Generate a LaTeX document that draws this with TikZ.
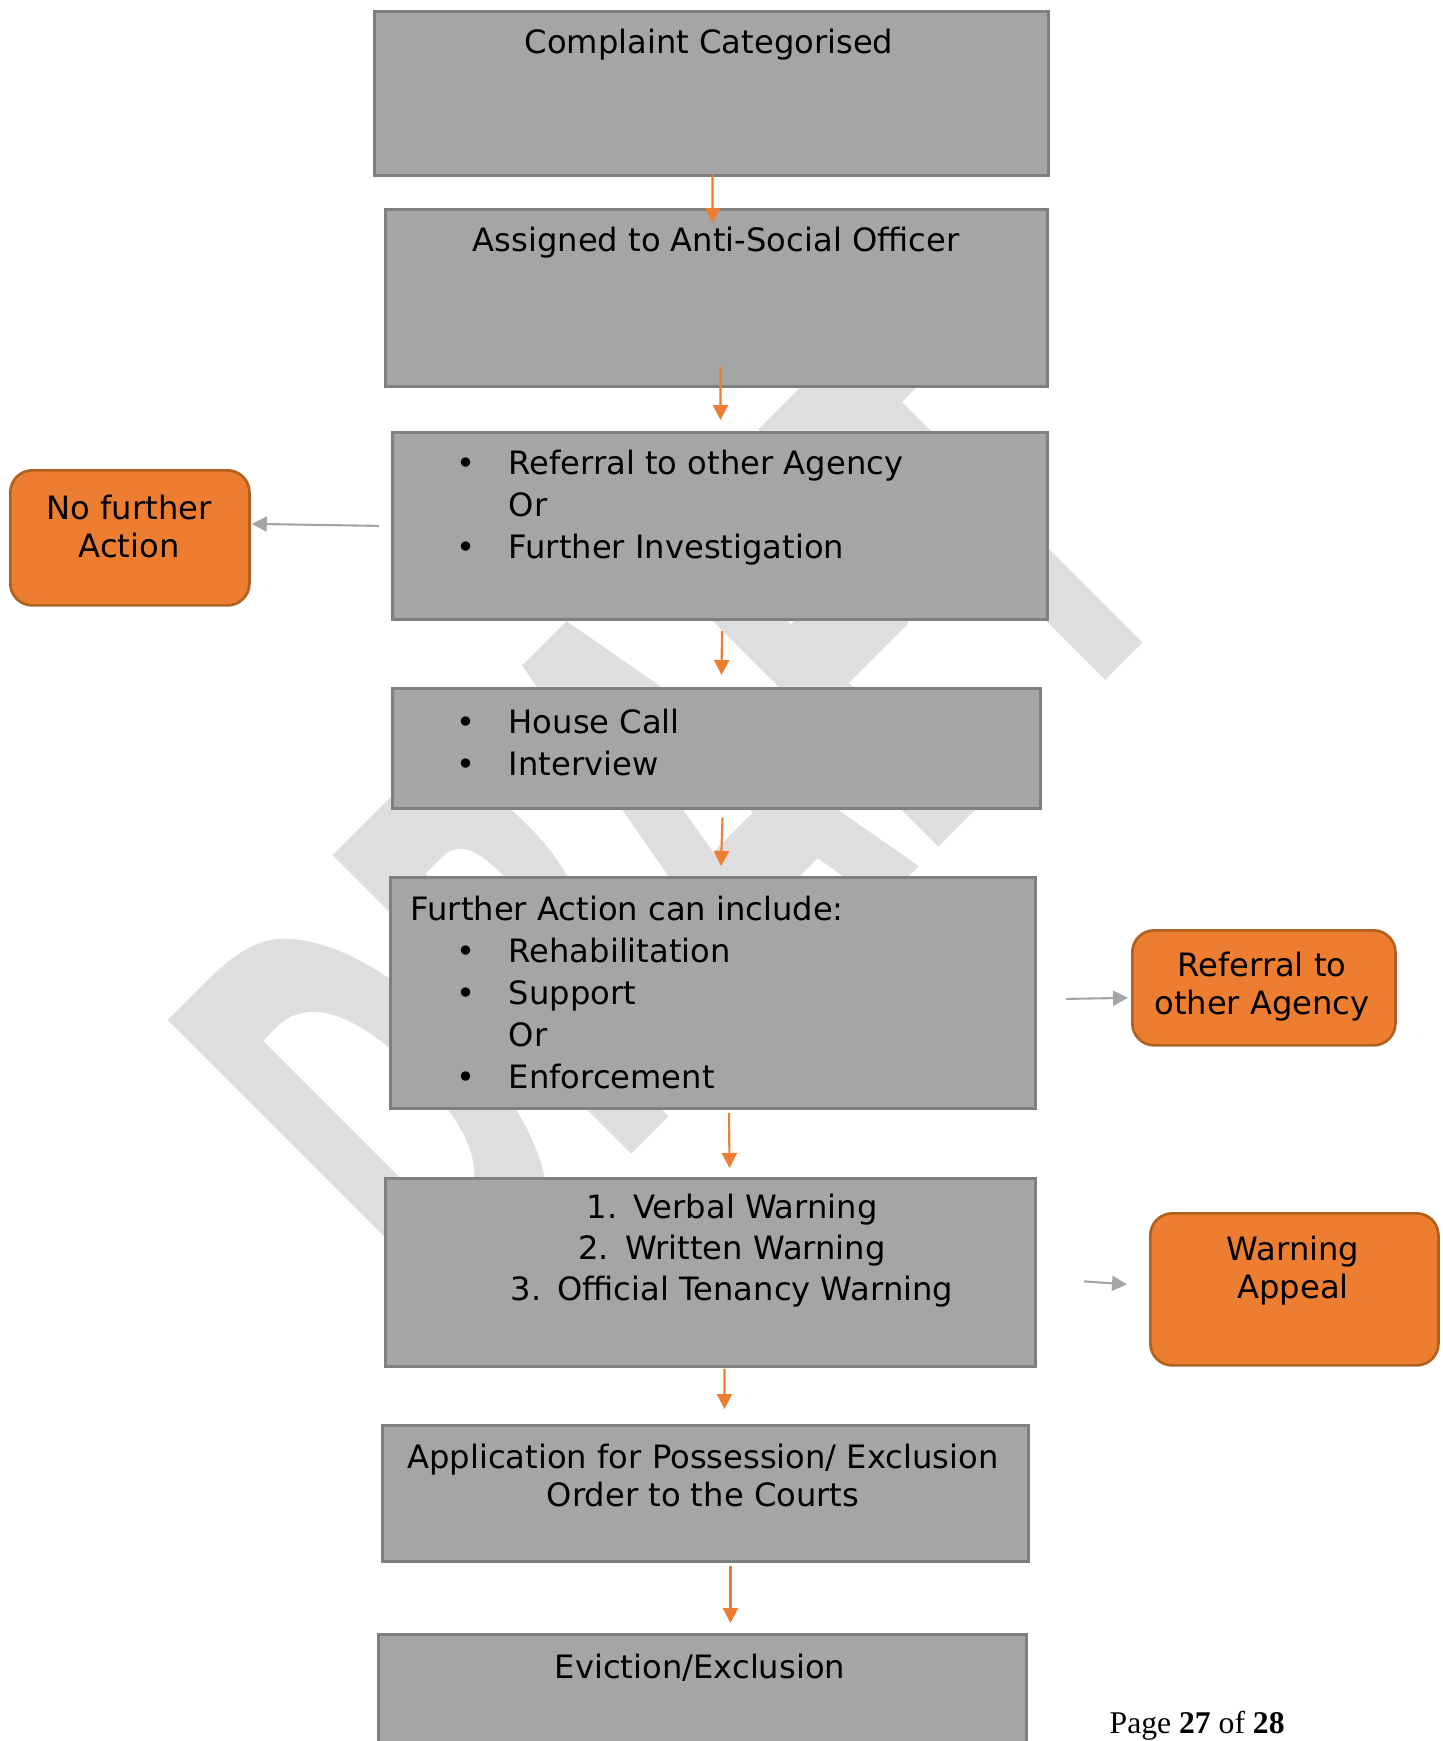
\documentclass[tikz,border=0pt]{standalone}
\usepackage{fontspec}
\setmainfont{DejaVu Sans}
\newfontfamily\pagefont{Liberation Serif}
\usepackage{xcolor}
\usetikzlibrary{arrows.meta,calc}
\definecolor{boxfill}{HTML}{A5A5A5}
\definecolor{boxline}{HTML}{7F7F7F}
\definecolor{orgfill}{HTML}{ED7D31}
\definecolor{orgline}{HTML}{B0601F}
\definecolor{arrgray}{HTML}{A5A5A5}
\definecolor{wmark}{HTML}{DEDEDE}
\newcommand{\bul}{\makebox[0.52cm][l]{\textbullet}}

\begin{document}
\begin{tikzpicture}[x=0.01cm, y=-0.01cm,
  gbox/.style={draw=boxline, fill=boxfill, line width=0.75pt,
    anchor=north west, inner sep=0pt},
  obox/.style={draw=orgline, fill=orgfill, line width=0.75pt,
    rounded corners=0.22cm, anchor=north west, inner sep=0pt},
  txt/.style={font=\fontsize{9.15}{10.8}\selectfont, inner sep=0pt,
    anchor=north, align=center},
  lst/.style={font=\fontsize{9.15}{12}\selectfont, inner sep=0pt,
    anchor=north west, align=left},
  arr/.style={-{Triangle[length=0.15cm, width=0.15cm]}, line width=0.6pt, draw=orgfill},
  garr/.style={-{Triangle[length=0.15cm, width=0.15cm]}, line width=0.6pt, draw=arrgray},
]
  \useasboundingbox (0,0) rectangle (1443,1741);
  \clip (0,0) rectangle (1443,1741);

  \node[font=\fontsize{80}{80}\selectfont\bfseries, text=wmark, rotate=45,
    yscale=2.06, inner sep=0pt] (wm) at (671,816) {DRAFT};

  \node[gbox, minimum width=6.74cm, minimum height=1.64cm] (b1) at (373,10) {};
  \node[gbox, minimum width=6.62cm, minimum height=1.77cm] (b2) at (384,208) {};
  \node[gbox, minimum width=6.55cm, minimum height=1.87cm] (b3) at (391,431) {};
  \node[gbox, minimum width=6.48cm, minimum height=1.20cm] (b4) at (391,687) {};
  \node[gbox, minimum width=6.45cm, minimum height=2.31cm] (b5) at (389,876) {};
  \node[gbox, minimum width=6.50cm, minimum height=1.88cm] (b6) at (384,1177) {};
  \node[gbox, minimum width=6.46cm, minimum height=1.36cm] (b7) at (381,1424) {};
  \node[gbox, minimum width=6.48cm, minimum height=1.40cm] (b8) at (377,1633) {};

  \node[obox, minimum width=2.39cm, minimum height=1.35cm] (nfa) at (9,469) {};
  \node[obox, minimum width=2.63cm, minimum height=1.15cm] (roa) at (1131,929) {};
  \node[obox, minimum width=2.88cm, minimum height=1.52cm] (wap) at (1149,1212) {};

  \node[txt] (t1) at (709,28) {Complaint Categorised};
  \node[txt] (t2) at (716,226) {Assigned to Anti-Social Officer};
  \node[lst] (t3) at (456,449)
    {\bul Referral to other Agency\\\hspace*{0.52cm}Or\\\bul Further Investigation};
  \node[lst] (t4) at (456,708) {\bul House Call\\\bul Interview};
  \node[lst] (t5) at (410,895)
    {Further Action can include:\\
     \hspace*{0.46cm}\bul Rehabilitation\\
     \hspace*{0.46cm}\bul Support\\
     \hspace*{0.98cm}Or\\
     \hspace*{0.46cm}\bul Enforcement};
  \node[txt, font=\fontsize{9.15}{11.7}\selectfont] (t6) at (732,1193)
    {1.\enspace Verbal Warning\\2.\enspace Written Warning\\3.\enspace Official Tenancy Warning};
  \node[txt] (t7) at (703,1443) {Application for Possession/ Exclusion\\Order to the Courts};
  \node[txt] (t8) at (700,1653) {Eviction/Exclusion};

  \node[txt] (t9) at (129,494) {No further\\Action};
  \node[txt] (t10) at (1262,951) {Referral to\\other Agency};
  \node[txt] (t11) at (1293,1235) {Warning\\Appeal};

  \draw[arr] ($(b1.south)+(1,-2)$) -- ($(b2.north)+(-4,15)$);
  \draw[arr] ($(b2.south)+(4,-21)$) -- ($(b3.north)+(0.5,-11)$);
  \draw[arr] ($(b3.south)+(2,10)$) -- ($(b4.north)+(5,-12)$);
  \draw[arr] ($(b4.south)+(6,8)$) -- ($(b5.north)+(8,-10)$);
  \draw[arr] ($(b5.south)+(16,3)$) -- ($(b6.north)+(19,-9)$);
  \draw[arr] ($(b6.south)+(14,1)$) -- ($(b7.north)+(19,-15)$);
  \draw[arr] ($(b7.south)+(25,3)$) -- ($(b8.north)+(28,-10)$);

  \draw[garr] ($(b3.west)+(-12,0)$) -- ($(nfa.east)+(1,-14)$);
  \draw[garr] ($(b5.east)+(29,6)$) -- ($(roa.west)+(-3,10)$);
  \draw[garr] ($(b6.east)+(47,9)$) -- ($(wap.west)+(-22,-5)$);

  \node[font=\pagefont\fontsize{9}{11}\selectfont, anchor=base west, inner sep=0pt]
    (pg) at (1109,1733) {Page \textbf{27} of \textbf{28}};
\end{tikzpicture}
\end{document}
